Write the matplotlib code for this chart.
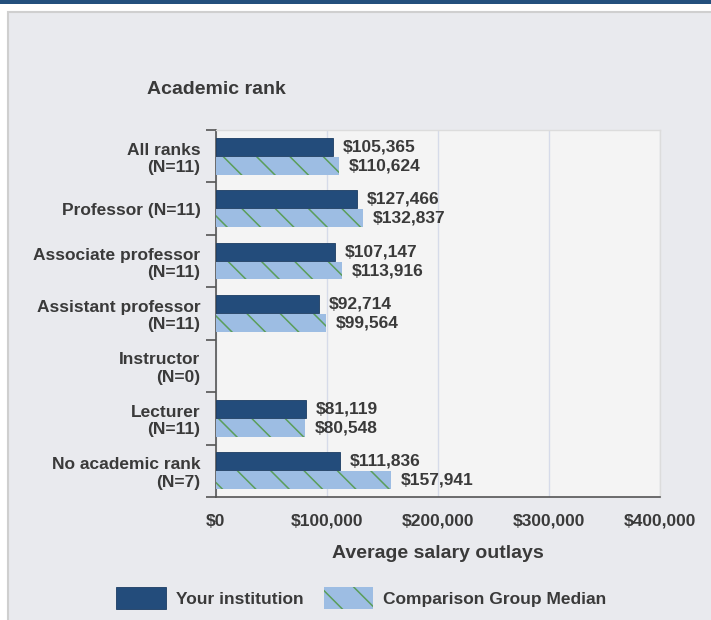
#!/usr/bin/env python3
"""Average salary outlays by academic rank: institution vs comparison group."""

import matplotlib
matplotlib.use('Agg')
import matplotlib.pyplot as plt
from matplotlib.patches import Patch, Rectangle
from matplotlib.ticker import FuncFormatter

plt.rcParams['font.family'] = ['Liberation Sans', 'DejaVu Sans']
plt.rcParams['hatch.linewidth'] = 1.1

# Data
categories = ['All ranks\n(N=11)', 'Professor (N=11)', 'Associate professor\n(N=11)',
              'Assistant professor\n(N=11)', 'Instructor\n(N=0)', 'Lecturer\n(N=11)',
              'No academic rank\n(N=7)']
your_institution = [105365, 127466, 107147, 92714, None, 81119, 111836]
comparison_median = [110624, 132837, 113916, 99564, None, 80548, 157941]
x_ticks = [0, 100000, 200000, 300000, 400000]

# Colors
dark_blue = '#234c7b'
light_blue = '#9dbde3'
hatch_green = '#5a9e5a'
text_color = '#3a3a3a'

fig = plt.figure(figsize=(7.11, 6.2), dpi=100, facecolor='white')

# Outer panel and header band
fig.add_artist(Rectangle((8 / 711, -0.01), 1.0, 1 - 12 / 620 + 0.01, transform=fig.transFigure,
                         facecolor='#e9eaee', edgecolor='#cfcfcf', linewidth=1.5, zorder=-10))
fig.add_artist(Rectangle((0, 1 - 4 / 620), 1.0, 4 / 620, transform=fig.transFigure,
                         facecolor='#24507d', edgecolor='none', zorder=-10))

ax = fig.add_axes([215.7 / 711, 1 - 497 / 620, (660 - 215.7) / 711, (497 - 130) / 620])
ax.set_facecolor('#f4f4f4')

offset = 0.18
bar_h = 0.34
for i, (yv, cv) in enumerate(zip(your_institution, comparison_median)):
    if yv is not None:
        ax.barh(i - offset, yv, height=bar_h, color=dark_blue, edgecolor='#1b3c63',
                linewidth=0.6, zorder=3)
        ax.annotate(f'${yv:,}', (yv, i - offset), xytext=(7, 0), textcoords='offset points',
                    ha='left', va='center', fontsize=12.5, fontweight='bold', color=text_color)
    if cv is not None:
        ax.barh(i + offset, cv, height=bar_h, color=light_blue, edgecolor=hatch_green,
                linewidth=0, hatch='\\', zorder=3)
        ax.annotate(f'${cv:,}', (cv, i + offset), xytext=(7, 0), textcoords='offset points',
                    ha='left', va='center', fontsize=12.5, fontweight='bold', color=text_color)

ax.set_xlim(0, 400000)
ax.set_ylim(len(categories) - 0.5, -0.5)
ax.set_xticks(x_ticks)
ax.xaxis.set_major_formatter(FuncFormatter(lambda v, p: f'${int(v):,}'))
ax.tick_params(axis='x', length=0, pad=12, labelsize=12.5, labelcolor=text_color)
for lbl in ax.get_xticklabels():
    lbl.set_fontweight('bold')

# Band boundary ticks and category labels
ax.set_yticks([i - 0.5 for i in range(len(categories) + 1)])
ax.set_yticklabels([])
ax.tick_params(axis='y', which='major', length=7, width=1.2, color='#555555')
ax.set_yticks(range(len(categories)), minor=True)
ax.set_yticklabels(categories, minor=True, fontsize=12.5, fontweight='bold', color=text_color,
                   ha='right', multialignment='right')
ax.tick_params(axis='y', which='minor', length=0, pad=11)

ax.grid(axis='x', color='#d6dbe9', linewidth=1)
ax.set_axisbelow(True)
for side in ['left', 'bottom']:
    ax.spines[side].set_color('#555555')
    ax.spines[side].set_linewidth(1.2)
for side in ['top', 'right']:
    ax.spines[side].set_color('#dcdcdc')
    ax.spines[side].set_linewidth(1.0)

fig.text(216 / 711, 1 - 90 / 620, 'Academic rank', ha='center', va='center',
         fontsize=14, fontweight='bold', color=text_color)
fig.text(437.9 / 711, 1 - 554 / 620, 'Average salary outlays', ha='center', va='center',
         fontsize=14, fontweight='bold', color=text_color)

handles = [Patch(facecolor=dark_blue, edgecolor='#1b3c63', linewidth=0.6, label='Your institution'),
           Patch(facecolor=light_blue, edgecolor=hatch_green, linewidth=0, hatch='\\',
                 label='Comparison Group Median')]
leg = fig.legend(handles=handles, loc='center', bbox_to_anchor=(361.5 / 711, 1 - 598 / 620),
                 ncol=2, frameon=False, handlelength=2.87, handleheight=1.55,
                 handletextpad=0.57, columnspacing=1.15,
                 prop={'size': 12.5, 'weight': 'bold'})
for t in leg.get_texts():
    t.set_color(text_color)

plt.savefig('out.png', dpi=100)
plt.close()
